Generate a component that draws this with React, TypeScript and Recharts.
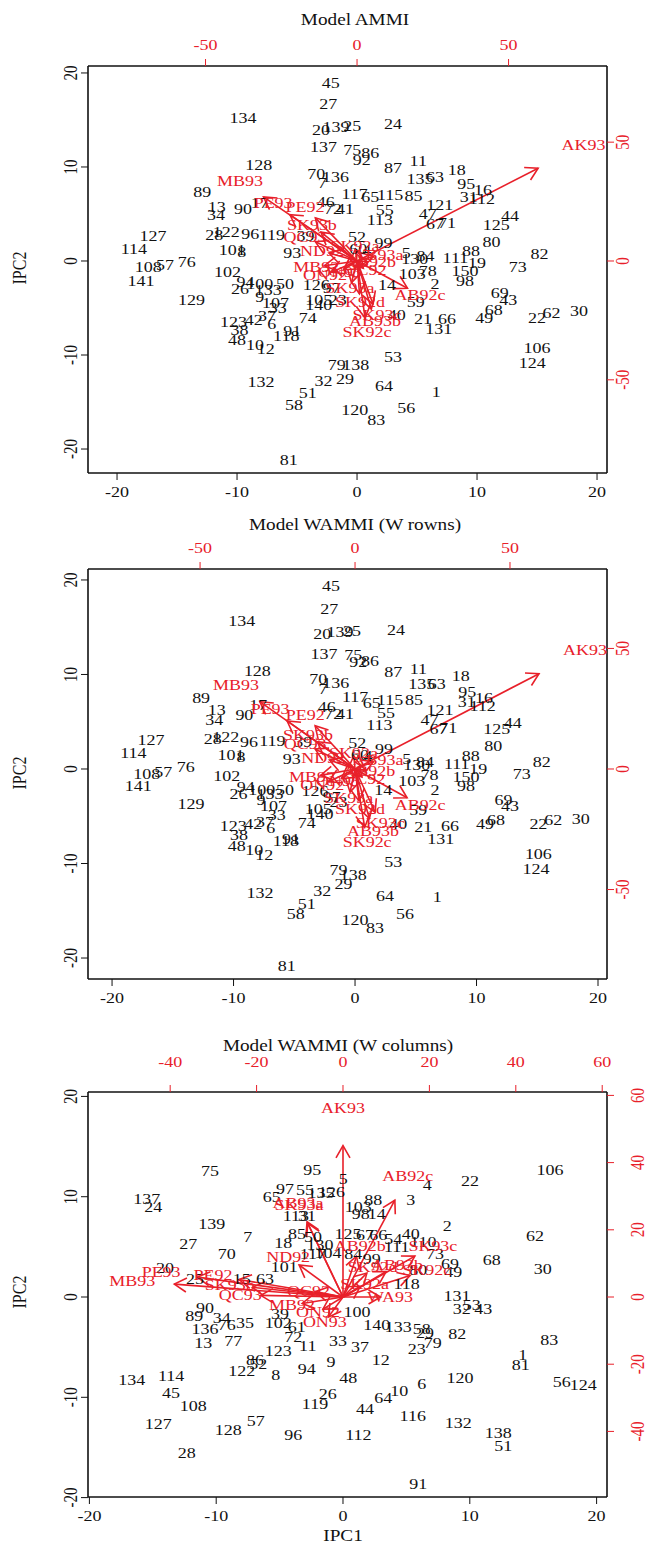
import React from 'react';
import { ComposedChart, Scatter, XAxis, YAxis, ReferenceLine } from 'recharts';

const RED = '#e8202a';
const FONT = '"Liberation Serif", "Times New Roman", serif';
const SX = 1.2;

type P = [string, number, number];

// ---------- Panel 1: Model AMMI ----------
const ammiGenos: P[] = [
  ['45', -2.2, 19.0], ['27', -2.4, 16.7], ['134', -9.5, 15.2], ['20', -3.0, 14.0], ['139', -1.75, 14.3],
  ['25', -0.4, 14.4], ['137', -2.8, 12.1], ['128', -8.2, 10.2], ['70', -3.4, 9.3], ['7', -2.9, 8.3],
  ['136', -1.8, 9.0], ['89', -12.9, 7.4], ['17', -8.1, 6.2], ['13', -11.7, 5.8], ['34', -11.75, 4.9],
  ['90', -9.5, 5.6], ['46', -2.6, 6.3], ['72', -2.0, 5.6], ['41', -1.0, 5.6], ['127', -17.0, 2.7],
  ['114', -18.6, 1.35], ['28', -11.9, 2.8], ['122', -10.9, 3.1], ['96', -8.9, 2.9], ['119', -7.1, 2.8],
  ['39', -4.3, 2.7], ['101', -10.4, 1.2], ['8', -9.6, 1.0], ['93', -5.4, 0.9], ['108', -17.4, -0.6],
  ['57', -16.0, -0.4], ['76', -14.2, -0.1], ['102', -10.8, -1.1], ['141', -18.0, -2.1], ['26', -9.75, -2.9],
  ['94', -9.3, -2.2], ['100', -8.1, -2.45], ['50', -6.0, -2.45], ['133', -7.4, -3.1], ['9', -8.1, -3.8],
  ['107', -6.8, -4.4], ['33', -6.6, -5.0], ['129', -13.8, -4.1], ['123', -10.3, -6.5], ['42', -8.6, -6.3],
  ['37', -7.5, -5.85], ['6', -7.1, -6.7], ['38', -9.8, -7.3], ['48', -10.0, -8.4], ['10', -8.5, -8.9],
  ['12', -7.6, -9.3], ['118', -5.9, -7.9], ['91', -5.4, -7.4], ['74', -4.1, -6.0], ['126', -3.4, -2.55],
  ['97', -2.1, -2.8], ['105', -3.2, -4.15], ['140', -3.2, -4.7], ['23', -1.6, -4.1], ['79', -1.7, -11.0],
  ['132', -8.0, -12.8], ['32', -2.8, -12.7], ['29', -1.0, -12.5], ['51', -4.1, -14.0], ['58', -5.25, -15.3],
  ['81', -5.7, -21.1], ['120', -0.2, -15.85], ['103', 4.6, -1.4], ['78', 5.9, -1.0], ['2', 6.5, -2.45],
  ['150', 9.0, -1.0], ['98', 9.0, -2.1], ['73', 13.4, -0.6], ['59', 4.9, -4.3], ['69', 11.9, -3.4],
  ['43', 12.6, -4.1], ['68', 11.4, -5.2], ['49', 10.6, -6.0], ['22', 15.0, -6.0], ['62', 16.2, -5.5],
  ['30', 18.5, -5.3], ['40', 3.3, -5.7], ['21', 5.5, -6.1], ['66', 7.5, -6.1], ['131', 6.8, -7.2],
  ['14', 2.5, -2.55], ['106', 15.0, -9.2], ['124', 14.6, -10.8], ['53', 3.0, -10.2], ['138', -0.1, -11.0],
  ['64', 2.25, -13.3], ['1', 6.6, -13.9], ['56', 4.1, -15.6], ['83', 1.6, -16.9], ['24', 3.0, 14.6],
  ['75', -0.4, 11.8], ['86', 1.1, 11.5], ['92', 0.4, 10.8], ['87', 3.0, 9.9], ['11', 5.1, 10.7],
  ['135', 5.25, 8.8], ['63', 6.5, 9.0], ['18', 8.3, 9.7], ['95', 9.1, 8.2], ['16', 10.5, 7.55],
  ['31', 9.3, 6.8], ['112', 10.4, 6.6], ['117', -0.2, 7.2], ['65', 1.1, 6.8], ['115', 2.75, 7.1],
  ['85', 4.7, 6.9], ['121', 6.9, 6.0], ['47', 5.9, 5.0], ['67', 6.5, 4.0], ['71', 7.5, 4.1],
  ['55', 2.3, 5.5], ['113', 1.9, 4.4], ['125', 11.6, 3.9], ['44', 12.75, 4.8], ['80', 11.2, 2.05],
  ['88', 9.5, 1.1], ['82', 15.2, 0.75], ['52', 0.0, 2.6], ['99', 2.2, 1.9], ['60', 0.1, 1.3],
  ['4', 0.8, 1.2], ['5', 4.1, 0.9], ['84', 5.7, 0.6], ['130', 4.8, 0.2], ['111', 8.2, 0.3], ['19', 10.0, -0.2],
];
const ammiEnvs: P[] = [
  ['AK93', 74.7, 48.8], ['MB93', -38.6, 33.7], ['PE93', -27.7, 24.4], ['PE92', -17.2, 22.7],
  ['SK93b', -14.9, 15.2], ['QC93', -17.2, 10.1], ['ND92', -11.6, 4.2], ['MB92', -13.5, -2.5],
  ['ON92', -10.6, -5.9], ['ON93', -5.6, -4.6], ['AB93a', 6.9, 2.5], ['SK92a', -0.7, 6.3],
  ['QC92', 2.6, -3.8], ['AB92b', 4.3, -0.4], ['SK93a', -2.3, -11.4], ['SK92d', 1.0, -17.3],
  ['AB92c', 20.8, -14.3], ['SK93c', 6.6, -22.7], ['AB93b', 5.9, -25.3], ['SK92c', 3.3, -29.9],
];

// ---------- Panel 2: Model WAMMI (W rows) ----------
const rowsGenos: P[] = [
  ['45', -1.98, 19.4], ['27', -2.12, 17.0], ['134', -9.33, 15.66], ['20', -2.69, 14.36], ['139', -1.23, 14.5],
  ['25', -0.25, 14.6], ['137', -2.55, 12.24], ['128', -8.04, 10.37], ['70', -3.02, 9.6], ['7', -2.63, 8.54],
  ['136', -1.59, 9.17], ['89', -12.67, 7.54], ['17', -7.96, 6.77], ['13', -11.38, 6.24], ['34', -11.58, 5.19],
  ['90', -9.11, 5.71], ['46', -2.33, 6.59], ['72', -1.79, 5.89], ['41', -0.82, 5.89], ['127', -16.79, 3.07],
  ['114', -18.25, 1.72], ['28', -11.71, 3.17], ['122', -10.64, 3.42], ['96', -8.72, 2.89], ['119', -6.81, 2.96],
  ['39', -4.26, 2.89], ['101', -10.21, 1.48], ['8', -9.38, 1.3], ['93', -5.21, 1.06], ['108', -17.14, -0.46],
  ['57', -15.78, -0.29], ['76', -13.93, 0.24], ['102', -10.56, -0.74], ['141', -17.84, -1.8], ['26', -9.6, -2.65],
  ['94', -9.0, -1.87], ['100', -7.68, -2.22], ['50', -5.76, -2.22], ['133', -7.0, -2.65], ['9', -7.74, -3.21],
  ['107', -6.72, -3.92], ['33', -6.44, -4.87], ['129', -13.5, -3.7], ['123', -10.02, -6.03], ['42', -8.37, -5.82],
  ['37', -7.41, -5.58], ['6', -6.94, -6.17], ['38', -9.55, -6.98], ['48', -9.74, -8.15], ['10', -8.29, -8.57],
  ['12', -7.47, -9.1], ['118', -5.7, -7.59], ['91', -5.27, -7.33], ['74', -3.98, -5.68], ['126', -3.29, -2.3],
  ['97', -1.92, -2.93], ['105', -3.02, -4.16], ['140', -2.88, -4.69], ['23', -1.37, -3.46], ['79', -1.37, -10.61],
  ['132', -7.82, -13.09], ['32', -2.69, -12.88], ['29', -0.96, -12.1], ['51', -3.98, -14.21], ['58', -4.88, -15.27],
  ['81', -5.62, -20.85], ['120', 0.0, -15.9], ['103', 4.67, -1.24], ['78', 6.12, -0.63], ['2', 6.58, -2.22],
  ['150', 9.14, -0.81], ['98', 9.14, -1.8], ['73', 13.72, -0.53], ['59', 5.21, -4.26], ['69', 12.21, -3.28],
  ['43', 12.76, -3.92], ['68', 11.6, -5.32], ['49', 10.7, -5.82], ['22', 15.09, -5.82], ['62', 16.32, -5.32],
  ['30', 18.58, -5.22], ['40', 3.56, -5.75], ['21', 5.62, -6.11], ['66', 7.82, -6.03], ['131', 7.05, -7.41],
  ['14', 2.33, -2.15], ['106', 15.09, -8.92], ['124', 14.9, -10.51], ['53', 3.15, -9.81], ['138', -0.14, -11.22],
  ['64', 2.47, -13.44], ['1', 6.77, -13.51], ['56', 4.12, -15.27], ['83', 1.65, -16.75], ['24', 3.37, 14.71],
  ['75', -0.14, 12.14], ['86', 1.23, 11.43], ['92', 0.27, 11.35], ['87', 3.15, 10.3], ['11', 5.21, 10.66],
  ['135', 5.49, 9.07], ['63', 6.72, 9.07], ['18', 8.7, 9.87], ['95', 9.24, 8.18], ['16', 10.62, 7.54],
  ['31', 9.19, 7.12], ['112', 10.51, 6.7], ['117', 0.0, 7.65], ['65', 1.37, 7.06], ['115', 2.88, 7.3],
  ['85', 4.86, 7.3], ['121', 7.0, 6.24], ['47', 6.12, 5.19], ['67', 6.86, 4.31], ['71', 7.68, 4.37],
  ['55', 2.55, 6.0], ['113', 2.0, 4.73], ['125', 11.66, 4.31], ['44', 12.98, 4.94], ['80', 11.38, 2.47],
  ['88', 9.52, 1.41], ['82', 15.37, 0.77], ['52', 0.19, 2.83], ['99', 2.39, 2.19], ['60', 0.41, 1.48],
  ['4', 1.07, 1.38], ['5', 4.26, 1.13], ['84', 5.76, 0.77], ['130', 5.08, 0.42], ['111', 8.37, 0.6], ['19', 10.15, 0.0],
];
const rowsEnvs: P[] = [
  ['AK93', 74.2, 49.4], ['MB93', -38.4, 34.9], ['PE93', -27.4, 24.9], ['PE92', -16.1, 22.4],
  ['SK93b', -15.2, 14.1], ['QC93', -16.1, 10.4], ['ND92', -10.3, 4.6], ['MB92', -13.9, -3.3],
  ['ON92', -10.6, -6.6], ['ON93', -5.5, -5.0], ['AB93a', 7.4, 3.7], ['SK92a', -0.5, 6.8],
  ['QC92', 2.8, -4.2], ['AB92b', 4.6, -0.6], ['SK93a', -2.0, -12.0], ['SK92d', 1.6, -16.6],
  ['AB92c', 21.0, -14.9], ['SK93c', 8.1, -22.4], ['AB93b', 5.8, -25.7], ['SK92c', 3.9, -30.3],
];

// ---------- Panel 3: Model WAMMI (W columns) ----------
const colsGenos: P[] = [
  ['75', -10.49, 12.59], ['95', -2.42, 12.73], ['137', -15.48, 9.84], ['24', -14.96, 9.0], ['97', -4.57, 10.84],
  ['55', -3.0, 10.74], ['135', -1.73, 10.37], ['126', -0.9, 10.47], ['5', 0.02, 11.76], ['65', -5.62, 10.0],
  ['113', -3.71, 8.08], ['31', -2.84, 8.08], ['139', -10.35, 7.28], ['7', -7.52, 6.01], ['27', -12.2, 5.35],
  ['70', -9.17, 4.36], ['18', -4.71, 5.41], ['85', -3.63, 6.28], ['50', -2.37, 5.98], ['130', -1.81, 5.18],
  ['117', -2.37, 4.36], ['104', -1.18, 4.39], ['101', -4.63, 3.02], ['20', -14.04, 2.96], ['25', -11.67, 1.79],
  ['15', -7.99, 1.86], ['63', -6.15, 1.86], ['106', 16.32, 12.66], ['4', 6.65, 11.17], ['22', 10.02, 11.6],
  ['3', 5.34, 9.74], ['88', 2.39, 9.67], ['103', 1.21, 9.0], ['98', 1.4, 8.34], ['14', 2.66, 8.28],
  ['2', 8.23, 7.08], ['62', 15.14, 6.11], ['125', 0.39, 6.28], ['67', 1.73, 6.18], ['66', 2.78, 6.18],
  ['54', 3.97, 5.85], ['40', 5.34, 6.28], ['110', 6.33, 5.51], ['111', 4.24, 5.01], ['73', 7.26, 4.36],
  ['68', 11.73, 3.76], ['30', 15.75, 2.86], ['69', 8.44, 3.36], ['49', 8.7, 2.52], ['84', 0.81, 4.36],
  ['99', 2.26, 3.86], ['80', 5.94, 2.69], ['118', 5.02, 1.37], ['90', -10.88, -1.03], ['89', -11.73, -1.89],
  ['34', -9.57, -2.02], ['76', -9.17, -2.79], ['136', -10.88, -3.12], ['35', -7.73, -2.56], ['13', -11.02, -4.56],
  ['77', -8.65, -4.36], ['102', -5.1, -2.56], ['39', -4.97, -1.63], ['61', -3.65, -2.96], ['72', -3.92, -3.96],
  ['11', -2.78, -4.89], ['123', -5.1, -5.35], ['33', -0.39, -4.39], ['9', -0.95, -6.45], ['86', -6.94, -6.21],
  ['52', -6.68, -6.61], ['122', -7.99, -7.35], ['8', -5.31, -7.78], ['94', -2.86, -7.11], ['134', -16.66, -8.28],
  ['114', -13.56, -7.88], ['45', -13.56, -9.54], ['108', -11.81, -10.87], ['26', -1.21, -9.6], ['119', -2.21, -10.67],
  ['127', -14.57, -12.59], ['128', -9.05, -13.19], ['57', -6.88, -12.33], ['96', -3.92, -13.76], ['28', -12.33, -15.52],
  ['48', 0.42, -8.01], ['131', 8.99, 0.1], ['32', 9.36, -1.13], ['53', 10.15, -0.8], ['43', 11.06, -1.13],
  ['100', 1.1, -1.5], ['140', 2.66, -2.79], ['133', 4.36, -2.96], ['58', 6.21, -3.12], ['29', 6.47, -3.56],
  ['82', 9.01, -3.62], ['79', 7.07, -4.56], ['23', 5.81, -5.11], ['37', 1.34, -4.96], ['12', 2.97, -6.28],
  ['83', 16.27, -4.29], ['1', 14.17, -5.78], ['81', 14.01, -6.78], ['120', 9.23, -8.01], ['6', 6.21, -8.6],
  ['10', 4.44, -9.34], ['64', 3.18, -10.0], ['44', 1.74, -11.1], ['56', 17.25, -8.44], ['124', 18.95, -8.77],
  ['116', 5.5, -11.86], ['132', 9.09, -12.53], ['138', 12.25, -13.53], ['51', 12.64, -14.86], ['112', 1.21, -13.76],
  ['91', 5.94, -18.64],
];
const colsEnvs: P[] = [
  ['AK93', 0.0, 56.3], ['AB92c', 15.0, 36.0], ['MB93', -48.8, 4.8], ['PE93', -42.1, 7.4],
  ['PE92', -30.1, 6.5], ['ND92', -12.7, 11.9], ['AB93a', -10.4, 28.0], ['SK93a', -10.2, 27.4],
  ['QC93', -23.8, 0.6], ['SK93b', -26.2, 3.6], ['MB92', -11.8, -2.4], ['ON92', -5.8, -4.5],
  ['ON93', -4.2, -7.4], ['AB92b', 3.9, 15.2], ['SK93c', 20.8, 15.2], ['SK92d', 6.9, 8.9],
  ['SK92c', 19.4, 8.0], ['AB93b', 12.5, 9.5], ['WA93', 10.9, 0.0], ['QC92', -8.0, 2.0], ['SK92a', 5.0, 4.0],
];

const mainTicks = [-20, -10, 0, 10, 20];
const secTicks12 = [-50, 0, 50];
const secTicks3 = [-40, -20, 0, 20, 40, 60];

const toPts = (a: P[]) => a.map(([label, x, y]) => ({ label, x, y }));

const GenoShape = (props: any) => {
  const { cx, cy, payload } = props;
  if (cx == null || cy == null) return <g />;
  return (
    <text transform={`translate(${cx},${cy}) scale(${SX},1)`} textAnchor="middle" dy="0.35em"
      fontSize={15} fontFamily={FONT} fill="#111">{payload.label}</text>
  );
};
const EnvShape = (props: any) => {
  const { cx, cy, payload } = props;
  if (cx == null || cy == null) return <g />;
  return (
    <text transform={`translate(${cx},${cy}) scale(${SX},1)`} textAnchor="middle" dy="0.35em"
      fontSize={15} fontFamily={FONT} fill={RED}>{payload.label}</text>
  );
};
const ArrowShape = (props: any) => {
  const { x1, y1, x2, y2 } = props;
  if ([x1, y1, x2, y2].some((v) => v == null || isNaN(v))) return <g />;
  const a = Math.atan2(y2 - y1, x2 - x1);
  const L = 14;
  const w = Math.PI / 6;
  const ax = x2 - L * Math.cos(a - w), ay = y2 - L * Math.sin(a - w);
  const bx = x2 - L * Math.cos(a + w), by = y2 - L * Math.sin(a + w);
  return (
    <g>
      <line x1={x1} y1={y1} x2={x2} y2={y2} stroke={RED} strokeWidth={1.6} />
      <polyline points={`${ax},${ay} ${x2},${y2} ${bx},${by}`} fill="none" stroke={RED} strokeWidth={1.6} />
    </g>
  );
};

const txt = (color: string) => ({ fontSize: 15, fontFamily: FONT, fill: color });

const BottomTick = (p: any) => (
  <text transform={`translate(${p.x},${p.y + 12}) scale(${SX},1)`} textAnchor="middle" dy="0.35em" {...txt('#111')}>{p.payload.value}</text>
);
const LeftTick = (p: any) => (
  <text transform={`translate(${p.x - 10},${p.y}) rotate(-90) scale(1,${SX})`} textAnchor="middle" dy="0.35em" {...txt('#111')}>{p.payload.value}</text>
);
const makeTopTick = (off: number) => (p: any) => (
  <text transform={`translate(${p.x},${p.y - off}) scale(${SX},1)`} textAnchor="middle" dy="0.35em" {...txt(RED)}>{p.payload.value}</text>
);
const makeRightTick = (off: number) => (p: any) => (
  <text transform={`translate(${p.x + off},${p.y}) rotate(-90) scale(1,${SX})`} textAnchor="middle" dy="0.35em" {...txt(RED)}>{p.payload.value}</text>
);

type Cfg = {
  top: number; topH: number; botH: number; boxBottom: number;
  xd: [number, number]; yd: [number, number]; rx: number; ry: number;
  secTicks: number[]; genos: P[]; envs: P[]; topOff: number; rightOff: number;
};

const Panel = ({ c }: { c: Cfg }) => {
  const H = c.boxBottom - c.top + c.botH;
  const sxd: [number, number] = [c.xd[0] * c.rx, c.xd[1] * c.rx];
  const syd: [number, number] = [c.yd[0] * c.ry, c.yd[1] * c.ry];
  const envPts = toPts(c.envs);
  return (
    <div style={{ position: 'absolute', left: 0, top: c.top }}>
      <ComposedChart width={652} height={H} margin={{ top: 0, right: 0, bottom: 0, left: 0 }}>
        <XAxis xAxisId="b" orientation="bottom" type="number" dataKey="x" domain={c.xd} allowDataOverflow
          ticks={mainTicks} interval={0} height={c.botH} tickSize={7} tickMargin={0}
          axisLine={{ stroke: '#111', strokeWidth: 1.6 }} tickLine={{ stroke: '#111' }} tick={BottomTick} />
        <XAxis xAxisId="t" orientation="top" type="number" dataKey="x" domain={sxd} allowDataOverflow
          ticks={c.secTicks} interval={0} height={c.topH} tickSize={7} tickMargin={0}
          axisLine={{ stroke: '#111', strokeWidth: 1.6 }} tickLine={{ stroke: RED }} tick={makeTopTick(c.topOff)} />
        <YAxis yAxisId="l" orientation="left" type="number" dataKey="y" domain={c.yd} allowDataOverflow
          ticks={mainTicks} interval={0} width={88} tickSize={7} tickMargin={0}
          axisLine={{ stroke: '#111', strokeWidth: 1.6 }} tickLine={{ stroke: '#111' }} tick={LeftTick} />
        <YAxis yAxisId="r" orientation="right" type="number" dataKey="y" domain={syd} allowDataOverflow
          ticks={c.secTicks} interval={0} width={45} tickSize={7} tickMargin={0}
          axisLine={{ stroke: '#111', strokeWidth: 1.6 }} tickLine={{ stroke: RED }} tick={makeRightTick(c.rightOff)} />
        <Scatter xAxisId="b" yAxisId="l" data={toPts(c.genos)} shape={GenoShape} isAnimationActive={false} />
        {envPts.map((e) => (
          <ReferenceLine key={e.label} xAxisId="t" yAxisId="r" ifOverflow="visible"
            segment={[{ x: 0, y: 0 }, { x: e.x * 0.8, y: e.y * 0.8 }]} shape={ArrowShape} />
        ))}
        <Scatter xAxisId="t" yAxisId="r" data={envPts} shape={EnvShape} isAnimationActive={false} />
      </ComposedChart>
    </div>
  );
};

const panels: Cfg[] = [
  { top: 0, topH: 66, botH: 32, boxBottom: 473, xd: [-22.42, 20.83], yd: [-22.55, 20.74], rx: 3.96, ry: 3.956, secTicks: secTicks12, genos: ammiGenos, envs: ammiEnvs, topOff: 14, rightOff: 9 },
  { top: 505, topH: 64, botH: 32, boxBottom: 979, xd: [-21.98, 20.74], yd: [-22.22, 21.16], rx: 3.92, ry: 3.92, secTicks: secTicks12, genos: rowsGenos, envs: rowsEnvs, topOff: 14, rightOff: 9 },
  { top: 1011, topH: 81, botH: 40, boxBottom: 1497, xd: [-20.11, 20.82], yd: [-19.94, 20.44], rx: 2.935, ry: 2.985, secTicks: secTicks3, genos: colsGenos, envs: colsEnvs, topOff: 23, rightOff: 24 },
];

const Label = ({ x, y, text, rotate, size = 16 }: { x: number; y: number; text: string; rotate?: boolean; size?: number }) => (
  <div style={{
    position: 'absolute', left: x, top: y, transform: `translate(-50%,-50%) ${rotate ? 'rotate(-90deg) scale(1,1.2)' : 'scale(1.2,1)'}`,
    fontFamily: FONT, fontSize: size, color: '#111', whiteSpace: 'nowrap', lineHeight: 1,
  }}>{text}</div>
);

export default function App() {
  return (
    <div style={{ position: 'absolute', left: 0, top: 0, width: 652, height: 1555, background: '#fff', overflow: 'hidden' }}>
      {panels.map((c, i) => <Panel key={i} c={c} />)}
      <Label x={355} y={20} text="Model AMMI" />
      <Label x={355} y={525} text="Model WAMMI (W rowns)" />
      <Label x={338} y={1046} text="Model WAMMI (W columns)" />
      <Label x={20} y={268} text="IPC2" rotate />
      <Label x={20} y={773} text="IPC2" rotate />
      <Label x={20} y={1292} text="IPC2" rotate />
      <Label x={343} y={1536} text="IPC1" />
    </div>
  );
}
